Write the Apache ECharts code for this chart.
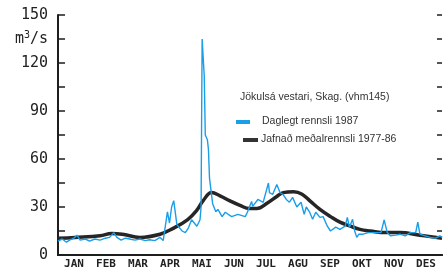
<!DOCTYPE html>
<html>
<head>
<meta charset="UTF-8">
<title>Jökulsá vestari</title>
<script src="https://cdn.jsdelivr.net/npm/echarts@6/dist/echarts.min.js"></script>
<style>
  html, body { margin: 0; padding: 0; background: #fff; }
  #chart { width: 443px; height: 270px; }
</style>
</head>
<body>
<div id="chart"></div>
<script>
// month labels
var months = ['JAN', 'FEB', 'MAR', 'APR', 'MAI', 'JUN', 'JUL', 'AGU', 'SEP', 'OKT', 'NOV', 'DES'];

// Daglegt rennsli 1987 (day of year, m3/s)
var dailyDays = [0, 4, 8, 11, 15, 18, 21, 26, 30, 35, 40, 45, 49, 53, 56, 60, 64, 68, 73, 78,
  83, 87, 92, 97, 100, 104, 106, 108, 110, 113, 118, 121, 124, 127, 132, 135, 136, 137, 139, 140,
  142, 143, 144, 147, 150, 152, 156, 159, 165, 171, 178, 180, 184, 185, 190, 195, 200, 201, 204, 208,
  211, 214, 217, 220, 223, 227, 231, 234, 236, 239, 242, 245, 249, 252, 256, 259, 264, 268, 273, 275,
  277, 280, 282, 284, 286, 290, 295, 302, 307, 310, 313, 316, 321, 325, 330, 335, 340, 342, 344, 349,
  354, 359, 363, 365];
var dailyFlow = [8.7, 10, 8, 9.3, 10.5, 12.4, 9.3, 10, 8.7, 10, 9.3, 10.5, 11, 14, 11, 9.3, 10.5, 10, 9.3, 10,
  9, 9.5, 9, 11, 9, 27, 20, 30, 34, 19, 15, 14, 17, 22, 18, 22, 30, 135, 112, 75,
  72, 66, 48, 32, 27, 28.5, 24, 26.7, 24, 25.4, 24, 26.7, 33.5, 30.4, 34.7, 32.9, 45, 39, 37.8, 44,
  39, 37.8, 34.7, 33, 36, 30, 33, 25.4, 30, 27, 22.3, 26.7, 23.5, 24, 18, 15, 17.4, 16, 18, 23.5,
  17.4, 22.3, 15, 11, 13, 13, 14, 14, 14, 22, 14, 12, 12.4, 13, 12, 14, 14, 20.5, 13, 12,
  11, 10.5, 12, 11];

// Jafnað meðalrennsli 1977-86
var meanDays = [0, 16, 40, 51, 61, 78, 97, 109, 123, 132, 138, 146, 154, 163, 173, 182, 189, 199, 208, 214,
  224, 232, 240, 249, 259, 268, 278, 287, 297, 311, 325, 344, 365];
var meanFlow = [10.5, 11, 12, 13.5, 13, 11, 13, 16.5, 22, 28, 34, 39, 37, 34, 31, 29, 29, 32.5, 36.6, 39,
  39.5, 38, 33.5, 28.5, 24, 20.5, 18, 16, 15, 14, 14, 12.4, 10.5];

var yTicks = [0, 30, 60, 90, 120, 150];

function pairs(xs, ys) {
    var out = [];
    for (var i = 0; i < xs.length; i++) out.push([xs[i], ys[i]]);
    return out;
}

var chart = echarts.init(document.getElementById('chart'));

var axisColor = '#1e1e1e';
var monoFont = 'DejaVu Sans Mono';
var sansFont = 'Liberation Sans';

var option = {
    animation: false,
    backgroundColor: '#fff',
    grid: { left: 58, right: 1, top: 15, bottom: 14 },
    xAxis: [
        {
            type: 'category', data: months, position: 'bottom',
            axisLine: { lineStyle: { color: axisColor, width: 2 } },
            axisTick: { inside: true, length: 6, interval: 0, lineStyle: { color: axisColor, width: 1.5 } },
            axisLabel: { interval: 0, margin: 4, fontFamily: monoFont, fontWeight: 'bold', fontSize: 11, color: '#222' }
        },
        {
            type: 'category', data: months, position: 'top',
            axisLine: { lineStyle: { color: axisColor, width: 2 } },
            axisTick: { inside: true, length: 6, interval: 0, lineStyle: { color: axisColor, width: 1.5 } },
            axisLabel: { show: false }
        },
        {
            type: 'value', min: 0, max: 365, show: false
        }
    ],
    yAxis: [
        {
            type: 'value', min: 0, max: 150, interval: 15, position: 'left',
            splitLine: { show: false },
            axisLine: { show: true, lineStyle: { color: axisColor, width: 2 } },
            axisTick: { show: true, inside: true, length: 7, lineStyle: { color: axisColor, width: 1.5 } },
            axisLabel: {
                margin: 10, fontFamily: monoFont, fontSize: 15, color: '#222',
                formatter: function (v) {
                    if (yTicks.indexOf(v) >= 0) return String(v);
                    if (v === 135) return '{u|m}{s|3}{u|/s}';
                    return '';
                },
                rich: {
                    u: { fontFamily: monoFont, fontSize: 15, color: '#222' },
                    s: { fontFamily: monoFont, fontSize: 10, color: '#222', padding: [0, 0, 8, 0] }
                }
            }
        },
        {
            type: 'value', min: 0, max: 150, interval: 15, position: 'right',
            splitLine: { show: false },
            axisLine: { show: false },
            axisTick: { show: true, inside: true, length: 5, lineStyle: { color: axisColor, width: 1.5 } },
            axisLabel: { show: false }
        }
    ],
    series: [
        {
            name: 'Jafnað meðalrennsli 1977-86',
            type: 'line', xAxisIndex: 2, yAxisIndex: 0,
            data: pairs(meanDays, meanFlow),
            smooth: 0.4, showSymbol: false,
            lineStyle: { color: '#262626', width: 3.5 },
            z: 2
        },
        {
            name: 'Daglegt rennsli 1987',
            type: 'line', xAxisIndex: 2, yAxisIndex: 0,
            data: pairs(dailyDays, dailyFlow),
            showSymbol: false,
            lineStyle: { color: '#1a9ee8', width: 1.4 },
            z: 3
        }
    ],
    graphic: [
        { type: 'text', left: 240, top: 92, style: { text: 'Jökulsá vestari, Skag. (vhm145)', fontFamily: sansFont, fontSize: 10.5, fill: '#333' } },
        { type: 'rect', shape: { x: 236, y: 120, width: 14, height: 4 }, style: { fill: '#1a9ee8' } },
        { type: 'text', left: 262, top: 116, style: { text: 'Daglegt rennsli 1987', fontFamily: sansFont, fontSize: 10.5, fill: '#333' } },
        { type: 'rect', shape: { x: 243, y: 138, width: 15, height: 4 }, style: { fill: '#333' } },
        { type: 'text', left: 261, top: 134, style: { text: 'Jafnað meðalrennsli 1977-86', fontFamily: sansFont, fontSize: 10.5, fill: '#333' } }
    ]
};

chart.setOption(option);
</script>
</body>
</html>
